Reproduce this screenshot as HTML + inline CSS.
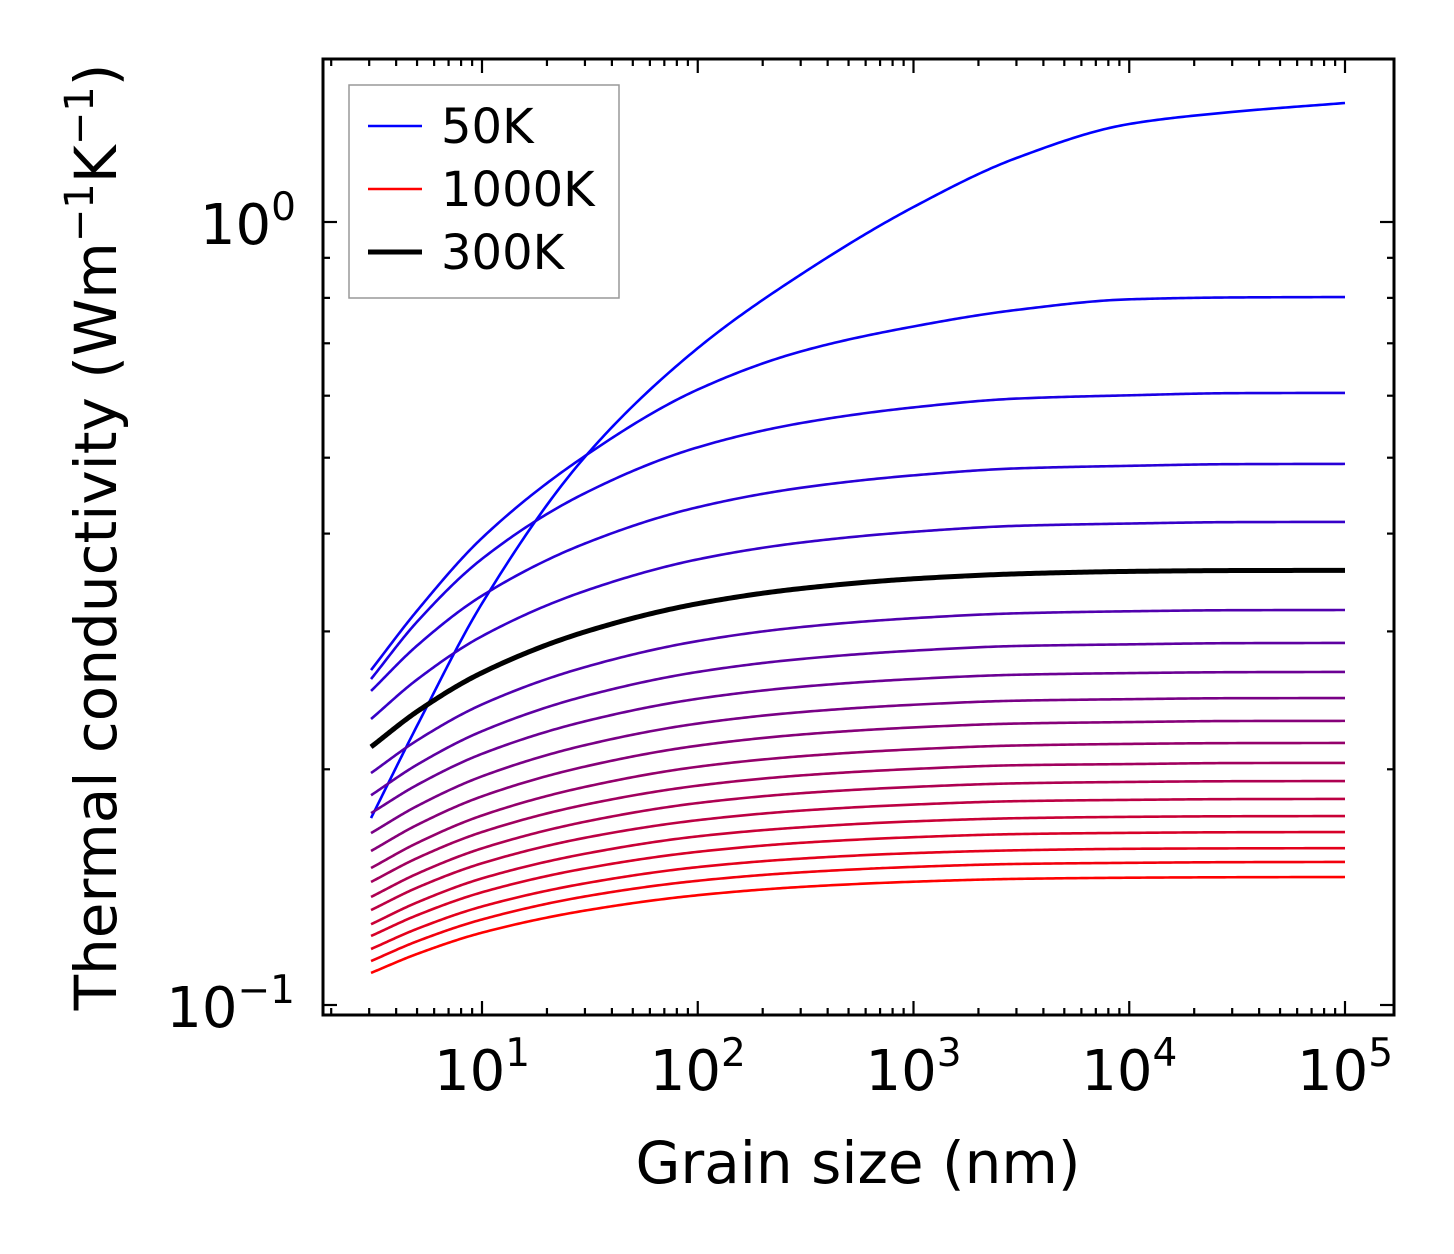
<!DOCTYPE html>
<html><head><meta charset="utf-8"><style>
body{margin:0;background:#fff}
svg{display:block;font-family:"DejaVu Sans","Liberation Sans",sans-serif}
</style></head><body>
<svg id="chart" width="1454" height="1254" viewBox="0 0 1454 1254" xmlns="http://www.w3.org/2000/svg">
<rect width="1454" height="1254" fill="#fff"/>
<g id="curves"></g>
<g id="axes"></g>
<text x="858" y="1183" font-size="58" text-anchor="middle">Grain size (nm)</text>
<text transform="translate(116,537) rotate(-90)" font-size="58" text-anchor="middle">Thermal conductivity (Wm<tspan dy="-23" font-size="40">−1</tspan><tspan dy="23">K</tspan><tspan dy="-23" font-size="40">−1</tspan><tspan dy="23">)</tspan></text>
<g>
<rect x="349" y="85" width="270" height="213" fill="#fff" stroke="#999" stroke-width="1.5"/>
<line x1="368" y1="126" x2="422" y2="126" stroke="#0000ff" stroke-width="2.6"/>
<text x="441" y="143" font-size="48">50K</text>
<line x1="368" y1="189" x2="422" y2="189" stroke="#ff0000" stroke-width="2.6"/>
<text x="441" y="206" font-size="48">1000K</text>
<line x1="368" y1="252" x2="422" y2="252" stroke="#000" stroke-width="5"/>
<text x="441" y="269" font-size="48">300K</text>
</g>
</svg>
<script>
const grainSizes = [3.06, 5, 10, 30, 100, 300, 1000, 3000, 10000, 30000, 100000];
const temperatures = [50,100,150,200,250,300,350,400,450,500,550,600,650,700,750,800,850,900,950,1000];
const k50 = [0.1733,0.2273,0.3257,0.5012,0.6900,0.8566,1.045,1.207,1.334,1.382,1.419];
const k100 = [0.2678,0.3188,0.3948,0.5025,0.6109,0.6833,0.7355,0.7721,0.7966,0.801,0.802];
const k150 = [0.2608,0.3086,0.3713,0.4505,0.5155,0.5535,0.5797,0.5949,0.6007,0.6045,0.605];
const k200 = [0.2518,0.2877,0.3332,0.3885,0.4323,0.4576,0.4747,0.4845,0.4882,0.4906,0.491];
const k250 = [0.2319,0.2604,0.2958,0.3379,0.3708,0.3895,0.4021,0.4092,0.4120,0.4137,0.414];
const k300 = [0.2136,0.2370,0.2657,0.2996,0.3255,0.3403,0.3502,0.3553,0.3579,0.3588,0.359];
const k350 = [0.1978,0.2177,0.2420,0.2701,0.2916,0.3038,0.3119,0.3164,0.3183,0.3193,0.3195];
const k400 = [0.1853,0.2027,0.2237,0.2480,0.2663,0.2766,0.2835,0.2874,0.2888,0.2898,0.290];
const k450 = [0.1758,0.1910,0.2093,0.2303,0.2461,0.2549,0.2608,0.2641,0.2654,0.2661,0.2663];
const k500 = [0.1658,0.1795,0.1959,0.2147,0.2288,0.2366,0.2418,0.2447,0.2458,0.2465,0.2466];
const k550 = [0.1573,0.1698,0.1847,0.2016,0.2144,0.2215,0.2262,0.2288,0.2298,0.2305,0.2306];
const k600 = [0.1496,0.1610,0.1746,0.1899,0.2015,0.2078,0.2121,0.2145,0.2155,0.2160,0.2161];
const k650 = [0.1436,0.1540,0.1663,0.1802,0.1906,0.1964,0.2002,0.2024,0.2031,0.2037,0.2038];
const k700 = [0.1374,0.1471,0.1585,0.1714,0.1811,0.1864,0.1899,0.1919,0.1927,0.1931,0.1932];
const k750 = [0.1322,0.1412,0.1517,0.1635,0.1722,0.1771,0.1803,0.1821,0.1828,0.1832,0.1833];
const k800 = [0.1268,0.1352,0.1451,0.1560,0.1642,0.1686,0.1716,0.1732,0.1739,0.1742,0.1743];
const k850 = [0.1225,0.1302,0.1393,0.1494,0.1569,0.1611,0.1638,0.1653,0.1659,0.1662,0.1663];
const k900 = [0.1179,0.1251,0.1336,0.1430,0.1500,0.1538,0.1563,0.1576,0.1583,0.1585,0.1586];
const k950 = [0.1138,0.1206,0.1286,0.1376,0.1441,0.1477,0.1501,0.1514,0.1519,0.1522,0.1523];
const k1000 = [0.1099,0.1162,0.1237,0.1320,0.1381,0.1415,0.1437,0.1449,0.1454,0.1456,0.1457];
const seriesList = [k50,k100,k150,k200,k250,k300,k350,k400,k450,k500,k550,k600,k650,k700,k750,k800,k850,k900,k950,k1000];
const xTickLabels = ["1","2","3","4","5"];
const yTickLabels = ["0","\u22121"];

const NS="http://www.w3.org/2000/svg";
const L=323,R=1394,T=59,B=1015;
const X0=482, XD=215.75, Y0=222, YD=783;
function xs(v){return X0+(Math.log10(v)-1)*XD;}
function ys(v){return Y0-Math.log10(v)*YD;}
function mk(tag,attrs,parent){const e=document.createElementNS(NS,tag);for(const k in attrs)e.setAttribute(k,attrs[k]);parent.appendChild(e);return e;}

function smoothPath(xv,yv){
  const X=xv.map(Math.log10),Y=yv.map(Math.log10),n=X.length;
  const d=[],m=[];
  for(let i=0;i<n-1;i++)d.push((Y[i+1]-Y[i])/(X[i+1]-X[i]));
  m[0]=d[0];m[n-1]=d[n-2];
  for(let i=1;i<n-1;i++){
    if(d[i-1]*d[i]<=0){m[i]=0;continue;}
    const h0=X[i]-X[i-1],h1=X[i+1]-X[i];
    const w1=2*h1+h0,w2=h1+2*h0;
    m[i]=(w1+w2)/(w1/d[i-1]+w2/d[i]);
  }
  let p="";
  for(let i=0;i<n-1;i++){
    const h=X[i+1]-X[i];
    for(let s=0;s<=40;s++){
      const t=s/40,t2=t*t,t3=t2*t;
      const y=(2*t3-3*t2+1)*Y[i]+(t3-2*t2+t)*h*m[i]+(-2*t3+3*t2)*Y[i+1]+(t3-t2)*h*m[i+1];
      const x=X[i]+t*h;
      p+=(p?"L":"M")+xs(Math.pow(10,x)).toFixed(2)+","+ys(Math.pow(10,y)).toFixed(2);
    }
  }
  return p;
}
const cg=document.getElementById('curves');
seriesList.forEach((s,i)=>{
  const f=(temperatures[i]-50)/950;
  const col=`rgb(${Math.round(255*f)},0,${Math.round(255*(1-f))})`;
  const el=mk('path',{d:smoothPath(grainSizes,s),fill:'none',stroke:col,'stroke-width':2.6},cg);
  
  
});
{
  const el=mk('path',{d:smoothPath(grainSizes,k300),fill:'none',stroke:'#000','stroke-width':5},cg);
  
  
}
const ax=document.getElementById('axes');
for(let e=0;e<=5;e++){
  for(let k=1;k<10;k++){
    const v=k*Math.pow(10,e), x=xs(v);
    if(x<L+1||x>R-1)continue;
    const len=k===1?14:7;
    mk('line',{x1:x,y1:B,x2:x,y2:B-len,stroke:'#000','stroke-width':2.2},ax);
    mk('line',{x1:x,y1:T,x2:x,y2:T+len,stroke:'#000','stroke-width':2.2},ax);
  }
}
for(let e=-2;e<=0;e++){
  for(let k=1;k<10;k++){
    const v=k*Math.pow(10,e), y=ys(v);
    if(y<T+1||y>B-1)continue;
    const len=k===1?14:7;
    mk('line',{x1:L,y1:y,x2:L+len,y2:y,stroke:'#000','stroke-width':2.2},ax);
    mk('line',{x1:R,y1:y,x2:R-len,y2:y,stroke:'#000','stroke-width':2.2},ax);
  }
}
mk('rect',{x:L,y:T,width:R-L,height:B-T,fill:'none',stroke:'#000','stroke-width':3},ax);
xTickLabels.forEach((lab,i)=>{
  const t=mk('text',{x:xs(Math.pow(10,i+1)),y:1090,'font-size':56,'text-anchor':'middle'},ax);
  
  
  t.innerHTML='10<tspan dy="-24" font-size="39">'+lab+'</tspan>';
});
yTickLabels.forEach((lab,i)=>{
  const t=mk('text',{x:i===0?296:295,y:ys(Math.pow(10,-i))+22,'font-size':56,'text-anchor':'end'},ax);
  
  
  t.innerHTML='10<tspan dy="-24" font-size="39">'+lab+'</tspan>';
});
</script>
</body></html>
